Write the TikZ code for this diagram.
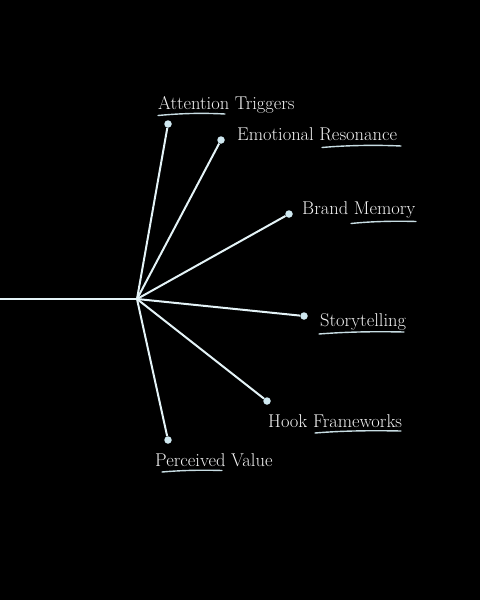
\documentclass[tikz,border=0pt]{standalone}
\definecolor{linec}{HTML}{E4F3F7}
\definecolor{dotc}{HTML}{CFE8F0}
\definecolor{ulc}{HTML}{C8DDE3}
\definecolor{txtc}{HTML}{F2F2F2}
\begin{document}
\begin{tikzpicture}[x=1pt,y=-1pt,
  spoke/.style={draw=linec,line width=2pt},
  dotnode/.style={circle,fill=dotc,inner sep=0pt,minimum size=7.5pt},
  label/.style={anchor=base west,inner sep=0pt,text=txtc,font=\fontsize{18.5}{22}\selectfont},
  swoosh/.style={draw=ulc,line width=1.4pt,line cap=round}]
\fill[black] (0,0) rectangle (480,600);
\useasboundingbox (0,0) rectangle (480,600);
\coordinate (hub) at (137,299);
\coordinate (left) at (0,299);
\node[dotnode] (d1) at (168,124) {};
\node[dotnode] (d2) at (221,140) {};
\node[dotnode] (d3) at (289,214) {};
\node[dotnode] (d4) at (304,316) {};
\node[dotnode] (d5) at (267,401) {};
\node[dotnode] (d6) at (168,440) {};
\draw[spoke] (left) -- (hub);
\foreach \d in {d1,d2,d3,d4,d5,d6} \draw[spoke] (hub) -- (\d);
\node[label] (t1) at (158,109) {Attention Triggers};
\node[label] (t2) at (237,140) {Emotional Resonance};
\node[label] (t3) at (302,214) {Brand Memory};
\node[label] (t4) at (320,326) {Storytelling};
\node[label] (t5) at (268,427) {Hook Frameworks};
\node[label] (t6) at (155,466) {Perceived Value};
\draw[swoosh] (158,115.5) .. controls (185,113) and (205,113) .. (225,114);
\draw[swoosh] (322,147.5) .. controls (350,145) and (380,145) .. (401,146);
\draw[swoosh] (351,223.5) .. controls (375,221) and (400,221) .. (416,221.5);
\draw[swoosh] (319,334) .. controls (350,331.5) and (380,331.5) .. (404,332);
\draw[swoosh] (315,433) .. controls (345,430.5) and (375,430.5) .. (401,431);
\draw[swoosh] (162,472) .. controls (185,470) and (205,470) .. (222,470.5);
\end{tikzpicture}
\end{document}
